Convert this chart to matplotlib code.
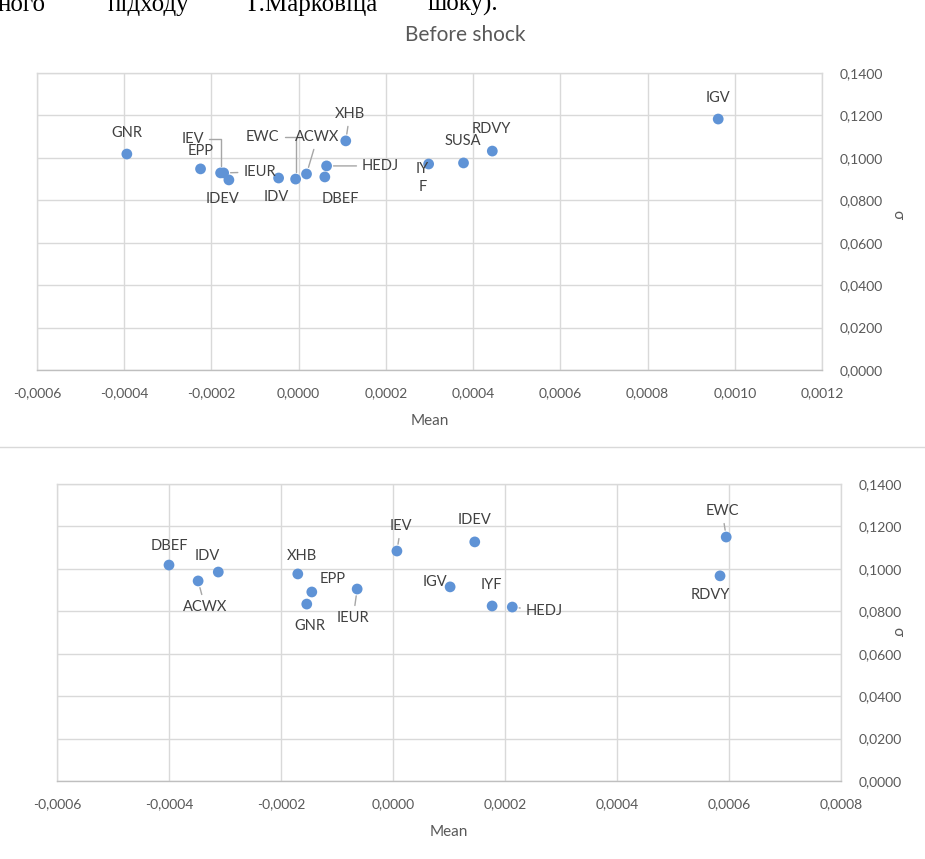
import matplotlib
matplotlib.use("Agg")
import matplotlib.pyplot as plt
from matplotlib.lines import Line2D
from matplotlib.ticker import FuncFormatter, MultipleLocator

plt.rcParams['font.family'] = ['Lato', 'DejaVu Sans']

# ---------------- data ----------------
before_names = ["GNR", "EPP", "IEV", "IEUR", "IDEV", "IDV", "EWC", "ACWX",
                "XHB", "HEDJ", "DBEF", "IYF", "SUSA", "RDVY", "IGV"]
before_mean = [-0.000394, -0.000225, -0.000179, -0.000172, -0.000160, -0.000046,
               -0.000007, 0.000018, 0.000108, 0.000064, 0.000060, 0.000298,
               0.000378, 0.000444, 0.000962]
before_sigma = [0.1018, 0.0948, 0.0929, 0.0929, 0.0896, 0.0905, 0.0900, 0.0924,
                0.1080, 0.0962, 0.0910, 0.0971, 0.0976, 0.1032, 0.1183]

after_names = ["DBEF", "IDV", "ACWX", "XHB", "EPP", "GNR", "IEUR", "IEV",
               "IDEV", "IGV", "IYF", "HEDJ", "EWC", "RDVY"]
after_mean = [-0.000400, -0.000312, -0.000348, -0.000170, -0.000145, -0.000154,
              -0.000064, 0.000007, 0.000146, 0.000102, 0.000177, 0.000213,
              0.000595, 0.000584]
after_sigma = [0.1018, 0.0985, 0.0943, 0.0976, 0.0891, 0.0834, 0.0905, 0.1084,
               0.1127, 0.0915, 0.0825, 0.0820, 0.1150, 0.0967]

# label placement (offset in pixels from the point, leader style)
before_lbl = {
    "GNR": ((0, 21), None), "EPP": ((0, 18), None),
    "IEV": ((-28, 34), "elbow"), "IEUR": ((36, 1), "line"),
    "IDEV": ((-6, -19), None), "IDV": ((-2, -19), None),
    "EWC": ((-33, 42), "elbow"), "ACWX": ((11, 37), "line"),
    "XHB": ((4, 27), "line"), "HEDJ": ((54, 0), "line"),
    "DBEF": ((16, -22), None), "IYF": ((-6, -14), None),
    "SUSA": ((-1, 22), None), "RDVY": ((-1, 22), None), "IGV": ((0, 21), None),
}
after_lbl = {
    "DBEF": ((0, 19), None), "IDV": ((-11, 16), None),
    "ACWX": ((7, -26), "line"), "XHB": ((4, 18), None),
    "EPP": ((21, 13), None), "GNR": ((3, -22), None),
    "IEUR": ((-4, -29), "line"), "IEV": ((4, 25), "line"),
    "IDEV": ((0, 22), None), "IGV": ((-15, 5), None),
    "IYF": ((-1, 21), None), "HEDJ": ((32, -4), "line"),
    "EWC": ((-4, 26), "line"), "RDVY": ((-10, -19), None),
}

DOT = '#5F93D6'
GRID = '#d9d9d9'
TICK = '#595959'
LBL = '#404040'

W, H = 925, 859
fig = plt.figure(figsize=(W / 100, H / 100), dpi=100)


def fmt(v, pos):
    return f"{v:.4f}".replace('.', ',').replace('-0,0000', '0,0000')


def draw(ax, names, xs, ys, lbls, xlim, wrap_iyf=False):
    ax.set_xlim(*xlim)
    ax.set_ylim(0, 0.14)
    ax.xaxis.set_major_locator(MultipleLocator(0.0002))
    ax.yaxis.set_major_locator(MultipleLocator(0.02))
    ax.xaxis.set_major_formatter(FuncFormatter(fmt))
    ax.yaxis.set_major_formatter(FuncFormatter(fmt))
    ax.grid(True, color=GRID, lw=1.0)
    ax.set_axisbelow(True)
    for s in ax.spines.values():
        s.set_color(GRID)
        s.set_linewidth(1.0)
    ax.spines['bottom'].set_color('#bfbfbf')
    ax.yaxis.tick_right()
    ax.tick_params(length=0, labelsize=10, labelcolor=TICK, pad=12)
    ax.tick_params(axis='y', pad=13)
    ax.set_xlabel('Mean', fontsize=11, color=TICK, labelpad=11)
    ax.scatter(xs, ys, s=60, color=DOT, zorder=3, edgecolors='none')
    for n, x, y in zip(names, xs, ys):
        (dx, dy), style = lbls[n]
        txt = "IY\nF" if (n == "IYF" and wrap_iyf) else n
        ap = None
        if style == "elbow":
            ap = dict(arrowstyle='-', color='#a6a6a6', lw=1.0,
                      connectionstyle="angle,angleA=0,angleB=90,rad=0",
                      shrinkA=2, shrinkB=5)
        elif style == "line":
            ap = dict(arrowstyle='-', color='#a6a6a6', lw=1.0,
                      shrinkA=2, shrinkB=5)
        ax.annotate(txt, (x, y), xytext=(dx, dy), textcoords='offset pixels',
                    ha='center', va='center', fontsize=10.5, color=LBL,
                    linespacing=1.35, arrowprops=ap, zorder=4)


ax1 = fig.add_axes([37 / W, 1 - 370 / H, 785 / W, 297 / H])
draw(ax1, before_names, before_mean, before_sigma, before_lbl,
     (-0.0006, 0.0012), wrap_iyf=True)
fig.text(465 / W, 1 - 35 / H, 'Before shock', fontsize=15, color=TICK,
         ha='center', va='center')

ax2 = fig.add_axes([57 / W, 1 - 781 / H, 784 / W, 297 / H])
draw(ax2, after_names, after_mean, after_sigma, after_lbl, (-0.0006, 0.0008))

# y-axis titles (right side)
for yp in (215, 632):
    fig.text(897 / W, 1 - yp / H, 'σ', fontsize=11, color=TICK, rotation=270,
             ha='center', va='center')

# separator line between the charts
fig.add_artist(Line2D([0, 1], [1 - 447 / H, 1 - 447 / H], transform=fig.transFigure,
                      color='#d9d9d9', lw=1.0))

# cropped line of document text at the very top
for word, xp in [("ного", -2), ("підходу", 108), ("Г.Марковіца", 247), ("шоку).", 428)]:
    fig.text(xp / W, 1 - 11 / H, word, fontsize=18, family=['Liberation Serif', 'DejaVu Serif'],
             color='black', ha='left', va='baseline')

fig.savefig('out.png', dpi=100, facecolor='white')
